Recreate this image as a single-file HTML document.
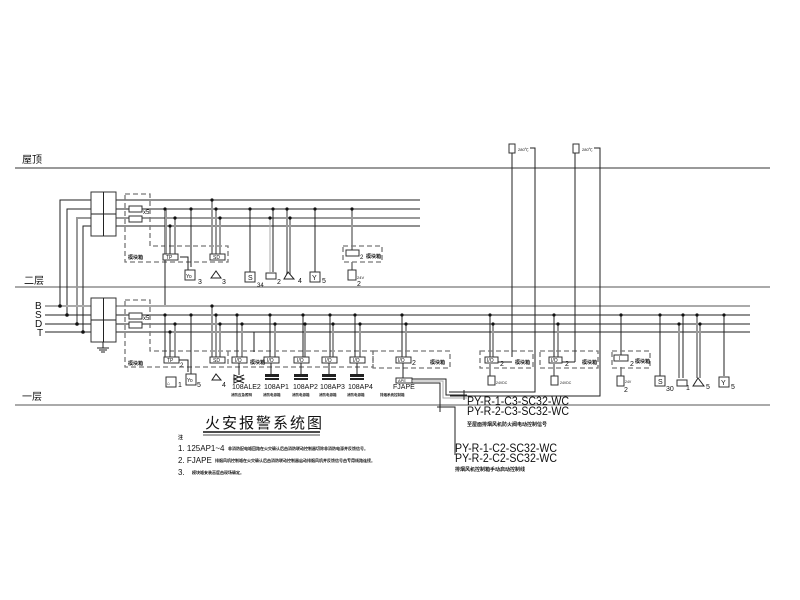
<!DOCTYPE html>
<html><head><meta charset="utf-8"><style>
html,body{margin:0;padding:0;background:#fff;}
svg{display:block;}
text{font-family:"Liberation Sans","Noto Sans CJK SC",sans-serif;fill:#111;}
.k{stroke:#222;stroke-width:1;fill:none}
.g{stroke:#999;stroke-width:2;fill:none}
.gl{stroke:#aaa;stroke-width:1;fill:none}
.d{stroke:#777;stroke-width:1.3;fill:none;stroke-dasharray:5,3}
.bx{fill:#fff;stroke:#333;stroke-width:1}
</style></head><body>
<svg width="800" height="600" viewBox="0 0 800 600" xmlns="http://www.w3.org/2000/svg">
<rect width="800" height="600" fill="#fff"/>
<!-- floor lines -->
<line x1="15" y1="168" x2="770" y2="168" stroke="#333" stroke-width="1"/>
<text x="22" y="163" font-size="10">屋顶</text>
<line x1="15" y1="287" x2="770" y2="287" stroke="#aaa" stroke-width="2"/>
<text x="24" y="284" font-size="10">二层</text>
<line x1="15" y1="405" x2="770" y2="405" stroke="#aaa" stroke-width="2"/>
<text x="22" y="400" font-size="10">一层</text>

<!-- upper bus -->
<polyline class="k" points="60,306 60,200 420,200"/>
<polyline class="k" points="67,315 67,209 420,209"/>
<polyline class="g" points="77,324 77,218 420,218"/>
<polyline class="k" points="83,332 83,226 420,226"/>
<rect class="bx" x="91" y="192" width="25" height="44"/>
<line class="k" x1="103.5" y1="192" x2="103.5" y2="236"/><line class="k" x1="91" y1="214" x2="116" y2="214"/>
<!-- lower bus -->
<line x1="45" y1="306" x2="750" y2="306" stroke="#aaa" stroke-width="2"/>
<line class="k" x1="45" y1="315" x2="750" y2="315"/>
<line class="k" x1="45" y1="324" x2="750" y2="324"/>
<line class="k" x1="45" y1="332" x2="750" y2="332"/>
<text x="35" y="309" font-size="10">B</text><text x="35" y="318" font-size="10">S</text>
<text x="35" y="327" font-size="10">D</text><text x="37" y="336" font-size="10">T</text>
<g fill="#111"><circle cx="60" cy="306" r="1.8"/><circle cx="67" cy="315" r="1.8"/><circle cx="77" cy="324" r="1.8"/><circle cx="83" cy="332" r="1.8"/></g>
<rect class="bx" x="91" y="298" width="25" height="44"/>
<line class="k" x1="103.5" y1="298" x2="103.5" y2="342"/><line class="k" x1="91" y1="320" x2="116" y2="320"/>
<g class="k"><line x1="103" y1="342" x2="103" y2="348"/><line x1="97" y1="348" x2="109" y2="348"/><line x1="99" y1="350" x2="107" y2="350"/><line x1="101" y1="352" x2="105" y2="352"/></g>

<!-- upper dashed box -->
<polygon class="d" points="125,194 150,194 150,246 228,246 228,262 125,262"/>
<rect class="bx" x="129" y="206" width="13" height="6"/><rect class="bx" x="129" y="216" width="13" height="6"/>
<text x="143" y="214" font-size="6">x5</text>
<text x="128" y="259" font-size="5" font-weight="bold">模块箱</text>
<!-- upper drops -->
<g class="k">
<line x1="165" y1="209" x2="165" y2="305"/>
<line x1="191" y1="209" x2="191" y2="267"/><line x1="191" y1="270" x2="191" y2="272"/>
<line x1="250" y1="209" x2="250" y2="272"/>
<line x1="273" y1="209" x2="273" y2="272"/>
<line x1="315" y1="209" x2="315" y2="272"/>
</g>
<g class="g" stroke-width="1.5">
<line x1="166" y1="209" x2="166" y2="254"/><line x1="175" y1="218" x2="175" y2="254"/>
<line x1="212" y1="200" x2="212" y2="254"/><line x1="216" y1="209" x2="216" y2="254"/><line x1="220" y1="218" x2="220" y2="254"/>
<line x1="287" y1="209" x2="287" y2="274"/><line x1="290" y1="218" x2="290" y2="274"/>
<line x1="352" y1="209" x2="352" y2="255"/><line x1="352" y1="262" x2="352" y2="270"/>
</g>
<line class="gl" x1="270" y1="218" x2="270" y2="272"/>
<line class="k" x1="170" y1="226" x2="170" y2="254"/>
<polyline class="k" points="180,257 188,257 188,270"/>
<g fill="#111"><circle cx="165" cy="209" r="1.6"/><circle cx="175" cy="218" r="1.6"/><circle cx="170" cy="226" r="1.6"/><circle cx="191" cy="209" r="1.6"/><circle cx="212" cy="200" r="1.6"/><circle cx="216" cy="209" r="1.6"/><circle cx="220" cy="218" r="1.6"/><circle cx="250" cy="209" r="1.6"/><circle cx="270" cy="218" r="1.6"/><circle cx="273" cy="209" r="1.6"/><circle cx="287" cy="209" r="1.6"/><circle cx="290" cy="218" r="1.6"/><circle cx="315" cy="209" r="1.6"/><circle cx="352" cy="209" r="1.6"/></g>
<rect class="bx" x="163" y="254" width="15" height="6"/><text x="166" y="259" font-size="5">TP</text>
<rect class="bx" x="210" y="254" width="15" height="6"/><text x="213" y="259" font-size="5">SD</text>
<rect class="bx" x="185" y="270" width="10" height="10"/><text x="186" y="278" font-size="5">Yo</text><text x="198" y="284" font-size="7">3</text>
<path class="k" d="M211,278 L216,271 L221,278 Z"/><text x="222" y="284" font-size="7">3</text>
<rect class="bx" x="245" y="272" width="10" height="10"/><text x="248" y="280" font-size="7">S</text><text x="257" y="287" font-size="6">34</text>
<rect class="bx" x="266" y="273" width="10" height="6"/><text x="277" y="284" font-size="7">2</text>
<path class="k" d="M284,279 L288,272 L294,279 Z"/><text x="298" y="283" font-size="7">4</text>
<rect class="bx" x="310" y="272" width="10" height="10"/><text x="312" y="280" font-size="7">Y</text><text x="322" y="283" font-size="7">5</text>
<rect class="d" x="343" y="246" width="39" height="16"/><rect class="bx" x="346" y="250" width="13" height="6"/><text x="360" y="259" font-size="6">2</text><text x="366" y="258" font-size="5" font-weight="bold">模块箱</text>
<rect class="bx" x="348" y="270" width="8" height="10"/><text x="357" y="279" font-size="4">24V</text><text x="357" y="286" font-size="7">2</text>

<!-- lower dashed boxes -->
<polygon class="d" points="125,300 150,300 150,351 373,351 373,367 125,367"/>
<rect class="bx" x="129" y="313" width="13" height="6"/><rect class="bx" x="129" y="322" width="13" height="6"/>
<text x="143" y="320" font-size="6">x5</text>
<text x="128" y="365" font-size="5" font-weight="bold">模块箱</text>
<line class="d" x1="228" y1="351" x2="228" y2="367"/>
<!-- lower drops -->
<g class="k">
<line x1="165" y1="315" x2="165" y2="357"/><line x1="170" y1="332" x2="170" y2="357"/>
<line x1="191" y1="315" x2="191" y2="374"/>
<line x1="237" y1="315" x2="237" y2="357"/>
<line x1="254" y1="332" x2="254" y2="352"/>
<line x1="270" y1="315" x2="270" y2="357"/><line x1="303" y1="315" x2="303" y2="357"/><line x1="330" y1="315" x2="330" y2="357"/><line x1="355" y1="315" x2="355" y2="357"/>
<line x1="402" y1="315" x2="402" y2="357"/><line x1="490" y1="315" x2="490" y2="357"/><line x1="554" y1="315" x2="554" y2="357"/>
<line x1="621" y1="315" x2="621" y2="357"/><line x1="660" y1="315" x2="660" y2="376"/><line x1="683" y1="315" x2="683" y2="378"/><line x1="724" y1="315" x2="724" y2="376"/>
</g>
<g class="g" stroke-width="1.5">
<line x1="175" y1="324" x2="175" y2="357"/>
<line x1="212" y1="306" x2="212" y2="357"/><line x1="216" y1="315" x2="216" y2="357"/><line x1="220" y1="324" x2="220" y2="357"/>
<line x1="242" y1="324" x2="242" y2="357"/><line x1="275" y1="324" x2="275" y2="357"/><line x1="305" y1="324" x2="305" y2="357"/><line x1="333" y1="324" x2="333" y2="357"/><line x1="360" y1="324" x2="360" y2="357"/>
<line x1="406" y1="324" x2="406" y2="357"/><line x1="493" y1="324" x2="493" y2="357"/><line x1="558" y1="324" x2="558" y2="357"/>
<line x1="679" y1="324" x2="679" y2="378"/><line x1="697" y1="315" x2="697" y2="378"/><line x1="700" y1="324" x2="700" y2="378"/>
<line x1="621" y1="367" x2="621" y2="376"/>
</g>
<g fill="#111"><circle cx="165" cy="315" r="1.6"/><circle cx="175" cy="324" r="1.6"/><circle cx="170" cy="332" r="1.6"/><circle cx="191" cy="315" r="1.6"/><circle cx="212" cy="306" r="1.6"/><circle cx="216" cy="315" r="1.6"/><circle cx="220" cy="324" r="1.6"/><circle cx="237" cy="315" r="1.6"/><circle cx="242" cy="324" r="1.6"/><circle cx="270" cy="315" r="1.6"/><circle cx="275" cy="324" r="1.6"/><circle cx="303" cy="315" r="1.6"/><circle cx="305" cy="324" r="1.6"/><circle cx="330" cy="315" r="1.6"/><circle cx="333" cy="324" r="1.6"/><circle cx="355" cy="315" r="1.6"/><circle cx="360" cy="324" r="1.6"/><circle cx="402" cy="315" r="1.6"/><circle cx="406" cy="324" r="1.6"/><circle cx="490" cy="315" r="1.6"/><circle cx="493" cy="324" r="1.6"/><circle cx="554" cy="315" r="1.6"/><circle cx="558" cy="324" r="1.6"/><circle cx="621" cy="315" r="1.6"/><circle cx="660" cy="315" r="1.6"/><circle cx="683" cy="315" r="1.6"/><circle cx="679" cy="324" r="1.6"/><circle cx="697" cy="315" r="1.6"/><circle cx="700" cy="324" r="1.6"/><circle cx="724" cy="315" r="1.6"/></g>
<rect class="bx" x="164" y="357" width="15" height="6"/><text x="167" y="362" font-size="5">TP</text>
<polyline class="k" points="179,360 188,360 188,372"/><text x="180" y="367" font-size="6">2</text>
<rect class="bx" x="166" y="377" width="10" height="10"/><text x="167" y="385" font-size="5">⌂</text><text x="178" y="387" font-size="7">1</text>
<rect class="bx" x="186" y="374" width="10" height="11"/><text x="187" y="382" font-size="5">Yo</text><text x="197" y="387" font-size="7">5</text>
<rect class="bx" x="210" y="357" width="15" height="6"/><text x="213" y="362" font-size="5">SD</text>
<path class="k" d="M212,380 L216,374 L221,380 Z"/><text x="222" y="387" font-size="7">4</text>
<g>
<rect class="bx" x="232" y="357" width="15" height="6"/><text x="235" y="362" font-size="5">I/O</text>
<rect class="bx" x="264" y="357" width="15" height="6"/><text x="267" y="362" font-size="5">I/O</text>
<rect class="bx" x="294" y="357" width="15" height="6"/><text x="297" y="362" font-size="5">I/O</text>
<rect class="bx" x="322" y="357" width="15" height="6"/><text x="325" y="362" font-size="5">I/O</text>
<rect class="bx" x="350" y="357" width="15" height="6"/><text x="353" y="362" font-size="5">I/O</text>
</g>
<text x="250" y="364" font-size="5" font-weight="bold">模块箱</text>
<line class="k" x1="239" y1="363" x2="239" y2="375"/>
<path class="k" d="M234,375 L244,379 L234,383 Z M244,375 L234,379 L244,383"/>
<g class="k"><line x1="271" y1="363" x2="271" y2="374"/><line x1="301" y1="363" x2="301" y2="374"/><line x1="329" y1="363" x2="329" y2="374"/><line x1="357" y1="363" x2="357" y2="374"/></g>
<g fill="#222"><rect x="265" y="374" width="14" height="3"/><rect x="265" y="378" width="14" height="2"/><rect x="294" y="374" width="14" height="3"/><rect x="294" y="378" width="14" height="2"/><rect x="322" y="374" width="14" height="3"/><rect x="322" y="378" width="14" height="2"/><rect x="350" y="374" width="14" height="3"/><rect x="350" y="378" width="14" height="2"/></g>
<g font-size="7"><text x="232" y="389">108ALE2</text><text x="264" y="389">108AP1</text><text x="293" y="389">108AP2</text><text x="320" y="389">108AP3</text><text x="348" y="389">108AP4</text><text x="393" y="389">FJAPE</text></g>
<g font-size="3.5" font-weight="bold"><text x="231" y="396">消防应急照明</text><text x="263" y="396">消防电源箱</text><text x="292" y="396">消防电源箱</text><text x="319" y="396">消防电源箱</text><text x="347" y="396">消防电源箱</text><text x="380" y="396">排烟系统控制箱</text></g>

<rect class="d" x="373" y="351" width="77" height="17"/>
<rect class="bx" x="396" y="357" width="15" height="6"/><text x="398" y="362" font-size="5">I/O</text><text x="412" y="365" font-size="7">2</text><text x="430" y="364" font-size="5" font-weight="bold">模块箱</text>
<line class="k" x1="403" y1="363" x2="403" y2="378"/>
<rect class="bx" x="396" y="378" width="16" height="5"/><text x="398" y="382" font-size="4">APE</text>
<polyline class="k" points="412,379 446,379 446,395 467,395"/>
<polyline class="gl" stroke-width="2" points="412,381 443,381 443,398 467,398"/>
<polyline class="k" points="412,383 440,383 440,407 455,407 455,455"/>
<line class="k" x1="440" y1="405" x2="440" y2="412"/><line class="k" x1="437" y1="407" x2="443" y2="407"/>
<line class="k" x1="464" y1="390" x2="464" y2="400"/>

<rect class="d" x="480" y="351" width="53" height="17"/>
<rect class="bx" x="485" y="357" width="13" height="6"/><text x="487" y="362" font-size="5">I/O</text><text x="500" y="366" font-size="7">2</text><text x="515" y="364" font-size="5" font-weight="bold">模块箱</text>
<line class="g" stroke-width="1.5" x1="490" y1="363" x2="490" y2="376"/>
<rect class="bx" x="488" y="376" width="7" height="9"/><text x="496" y="384" font-size="3.5">24VDC</text>
<rect class="d" x="540" y="351" width="58" height="17"/>
<rect class="bx" x="549" y="357" width="13" height="6"/><text x="551" y="362" font-size="5">I/O</text><text x="565" y="366" font-size="7">2</text><text x="582" y="364" font-size="5" font-weight="bold">模块箱</text>
<line class="g" stroke-width="1.5" x1="554" y1="363" x2="554" y2="376"/>
<rect class="bx" x="551" y="376" width="7" height="9"/><text x="560" y="384" font-size="3.5">24VDC</text>
<rect class="d" x="612" y="351" width="38" height="17"/>
<rect class="bx" x="614" y="355" width="14" height="6"/><text x="619" y="360" font-size="5">I</text><text x="630" y="366" font-size="7">2</text><text x="635" y="363" font-size="5" font-weight="bold">模块箱</text>
<rect class="bx" x="617" y="376" width="7" height="10"/><text x="625" y="383" font-size="3.5">24V</text><text x="624" y="392" font-size="7">2</text>
<rect class="bx" x="655" y="376" width="10" height="10"/><text x="658" y="384" font-size="7">S</text><text x="666" y="391" font-size="7">30</text>
<rect class="bx" x="677" y="380" width="10" height="6"/><text x="686" y="390" font-size="7">1</text>
<path class="k" d="M693,386 L698,378 L704,386 Z"/><text x="706" y="389" font-size="7">5</text>
<rect class="bx" x="719" y="377" width="10" height="10"/><text x="721" y="385" font-size="7">Y</text><text x="731" y="389" font-size="7">5</text>

<!-- top risers -->
<rect class="bx" x="509" y="144" width="6" height="9"/><text x="518" y="151" font-size="4">280℃</text>
<polyline class="k" points="530,148 535,148 535,392 449,392"/>
<line class="k" x1="512" y1="153" x2="512" y2="357"/>
<rect class="bx" x="573" y="144" width="6" height="9"/><text x="582" y="151" font-size="4">280℃</text>
<polyline class="k" points="594,148 600,148 600,396 450,396"/>
<line class="k" x1="575" y1="153" x2="575" y2="362"/>
<line class="k" x1="575" y1="362" x2="562" y2="362"/>
<line class="k" x1="512" y1="362" x2="498" y2="362"/>

<!-- PY labels -->
<g font-size="12" fill="#222"><text x="467" y="405" textLength="102" lengthAdjust="spacingAndGlyphs">PY-R-1-C3-SC32-WC</text>
<text x="467" y="415" textLength="102" lengthAdjust="spacingAndGlyphs">PY-R-2-C3-SC32-WC</text>
<text x="455" y="452" textLength="102" lengthAdjust="spacingAndGlyphs">PY-R-1-C2-SC32-WC</text>
<text x="455" y="462" textLength="102" lengthAdjust="spacingAndGlyphs">PY-R-2-C2-SC32-WC</text></g>
<text x="467" y="426" font-size="5" font-weight="bold">至屋面排烟风机防火阀电动控制信号</text>
<text x="455" y="471" font-size="5" font-weight="bold">排烟风机控制箱手动启动控制线</text>

<!-- title & notes -->
<text x="205" y="428" font-size="15" letter-spacing="2">火安报警系统图</text>
<line x1="203" y1="432" x2="320" y2="432" stroke="#111" stroke-width="1.5"/>
<line x1="203" y1="435" x2="320" y2="435" stroke="#111" stroke-width="0.8"/>
<text x="178" y="439" font-size="5" font-weight="bold">注</text>
<text x="178" y="451" font-size="8">1. 125AP1~4</text><text x="228" y="450" font-size="4" font-weight="bold">非消防配电箱回路在火灾确认后由消防联动控制器切除非消防电源并反馈信号。</text>
<text x="178" y="463" font-size="8">2. FJAPE</text><text x="215" y="462" font-size="4" font-weight="bold">排烟风机控制箱在火灾确认后由消防联动控制器启动排烟风机并反馈信号由专用线路连接。</text>
<text x="178" y="475" font-size="8">3.</text><text x="192" y="474" font-size="4" font-weight="bold">模块箱安装高度由现场确定。</text>
</svg>
</body></html>
